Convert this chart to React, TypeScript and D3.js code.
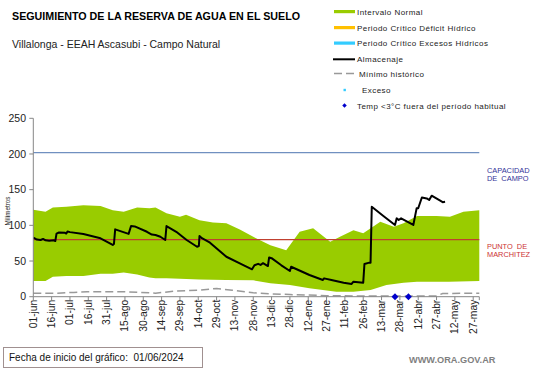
import React from "react";
import * as d3 from "d3";

const W = 541;
const H = 368;

const tickLabels = [
  "01-jun", "16-jun", "01-jul", "16-jul", "31-jul", "15-ago", "30-ago", "14-sep", "29-sep",
  "14-oct", "29-oct", "13-nov", "28-nov", "13-dic", "28-dic", "12-ene", "27-ene", "11-feb",
  "26-feb", "13-mar", "28-mar", "12-abr", "27-abr", "12-may", "27-may",
];
const yTicks = [0, 50, 100, 150, 200, 250];

// days since 01-jun-2024
const upperDays = [0, 10, 16, 27, 41, 55, 65, 74, 85, 95, 100, 109, 120, 125, 136, 147, 158, 169, 180, 194, 207, 218, 229, 243, 251, 262, 270, 284, 295, 303, 314, 330, 341, 352, 365];
const upperVals = [122, 119, 125, 126, 128, 127, 121, 119, 125, 124, 125, 117, 112, 115, 107, 104, 103, 94, 84, 72, 65, 91, 96, 77, 84, 93, 89, 105, 98, 103, 113, 113, 112, 119, 121];

const lowerDays = [0, 10, 16, 27, 41, 55, 65, 74, 85, 95, 100, 109, 120, 136, 158, 180, 194, 210, 226, 248, 262, 276, 289, 303, 314, 340, 365];
const lowerVals = [22, 22, 28, 29, 29, 32, 32, 34, 31, 27, 26, 26, 25, 24, 23.5, 23, 19, 16.5, 11.7, 7, 7, 9.4, 16.4, 19.6, 21, 21, 22];

const storageDays = [0, 3, 6, 8, 10, 13, 17, 18, 19, 21, 26, 27, 28, 30, 41, 55, 65, 66, 67, 78, 80, 83, 93, 97, 100, 104, 108, 109, 117, 125.5, 134, 135.5, 136, 138, 144.6, 158, 169, 179, 181, 184, 186, 188, 190, 192, 193, 195, 203, 210, 211, 226, 237, 238, 244, 254, 260.5, 262, 270, 271, 275, 276, 277, 286.5, 296, 297.4, 299, 301, 311, 313.7, 315, 318, 322, 324, 326, 333, 335, 337];
const storageVals = [82.7, 80, 79.5, 81, 79, 78.5, 79, 78, 88.5, 90, 89.5, 88.5, 91.5, 90.5, 87.8, 81.8, 72.5, 74, 94.4, 88, 99, 98.5, 91, 87, 86.5, 84, 79.5, 99, 91, 79.5, 70, 71, 85, 82, 75.7, 56, 46.8, 38.4, 44, 46, 44.5, 47, 45, 43, 55, 54, 44, 36, 42, 30.4, 23.4, 25.7, 23.4, 19.6, 17.8, 21, 19.6, 45.8, 47.7, 47.7, 126, 113, 100.5, 109.8, 107.5, 109.8, 100.5, 123.8, 124, 139, 137.7, 135.5, 141.5, 134.5, 132.5, 133];

const minDays = [0, 20, 33, 44, 74, 100, 117, 136, 150, 163, 180, 194, 210, 240, 270, 330, 335, 365];
const minVals = [5, 5, 6, 7, 7, 5, 8, 9, 11.5, 9, 5.5, 4, 3, 1.5, 1, 1, 4.5, 5];

const frostDays = [296, 307];
const fieldCapacity = 202;
const wiltingPoint = 80;

const legendItems = [
  { kind: "rect", color: "#99cc00", label: "Intervalo Normal" },
  { kind: "rect", color: "#ffc000", label: "Periodo Crítico Déficit Hídrico" },
  { kind: "rect", color: "#33ccff", label: "Periodo Crítico Excesos Hídricos" },
  { kind: "line", color: "#000000", label: "Almacenaje" },
  { kind: "dash", color: "#999999", label: "Mínimo histórico" },
  { kind: "dot", color: "#33ccff", label: "Exceso" },
  { kind: "diamond", color: "#0000cc", label: "Temp <3°C fuera del período habitual" },
];
const legendY = [11.5, 27.5, 43, 59.3, 73.5, 90, 105.5];

const FONT = "Arial, 'Liberation Sans', sans-serif";

export default function App() {
  const x = d3.scaleLinear().domain([0, 365]).range([33.3, 479.3]);
  const y = d3.scaleLinear().domain([0, 250]).range([296.7, 118.3]);

  const line = d3.line<[number, number]>().x((d) => x(d[0])).y((d) => y(d[1]));
  const upperPts: [number, number][] = upperDays.map((d, i) => [d, upperVals[i]]);
  const lowerPts: [number, number][] = lowerDays.map((d, i) => [d, lowerVals[i]]).reverse() as [number, number][];
  const bandPath = line([...upperPts, ...lowerPts]) + "Z";
  const storagePath = line(storageDays.map((d, i) => [d, storageVals[i]] as [number, number]));
  const minPath = line(minDays.map((d, i) => [d, minVals[i]] as [number, number]));
  const diamond = d3.symbol().type(d3.symbolSquare).size(24)();
  const diamondSmall = d3.symbol().type(d3.symbolSquare).size(10)();

  const x0 = x(0);
  const x1 = x(365);
  const yb = y(0);

  return (
    <svg width={W} height={H} style={{ position: "absolute", left: 0, top: 0, background: "#fff" }} fontFamily={FONT}>
      <rect x={0} y={0} width={W} height={H} fill="#ffffff" />
      {/* titles */}
      <text x={12} y={20} fontSize={10.7} fontWeight="bold" fill="#000">SEGUIMIENTO DE LA RESERVA DE AGUA EN EL SUELO</text>
      <text x={12} y={48} fontSize={10.5} fill="#222">Villalonga - EEAH Ascasubi - Campo Natural</text>

      {/* legend */}
      {legendItems.map((it, i) => {
        const ly = legendY[i];
        return (
          <g key={i}>
            {it.kind === "rect" && <rect x={334} y={ly - 1.5} width={21} height={3.2} fill={it.color} />}
            {it.kind === "line" && <line x1={333} x2={355} y1={ly} y2={ly} stroke="#000" strokeWidth={2} />}
            {it.kind === "dash" && <line x1={334} x2={356} y1={ly} y2={ly} stroke="#999" strokeWidth={1.5} strokeDasharray="8,4" />}
            {it.kind === "dot" && <rect x={343.5} y={ly - 1.2} width={2.4} height={2.4} fill={it.color} />}
            {it.kind === "diamond" && <path d={diamondSmall} transform={`translate(344.5,${ly})rotate(45)`} fill={it.color} />}
            <text x={it.kind === "dot" ? 362 : it.kind === "dash" ? 359 : 357} y={ly + 3} fontSize={8} letterSpacing={0.45} fill="#222">{it.label}</text>
          </g>
        );
      })}

      {/* band */}
      <path d={bandPath} fill="#99cc00" />

      {/* reference lines */}
      <line x1={x0} x2={x1} y1={y(fieldCapacity)} y2={y(fieldCapacity)} stroke="#7090c0" strokeWidth={1.2} />
      <line x1={x0} x2={x1} y1={y(wiltingPoint)} y2={y(wiltingPoint)} stroke="#c04030" strokeWidth={1.2} />

      {/* minimum historic */}
      <path d={minPath || ""} fill="none" stroke="#999" strokeWidth={1.5} strokeDasharray="8,4" />

      {/* storage */}
      <path d={storagePath || ""} fill="none" stroke="#000" strokeWidth={2} strokeLinejoin="round" />

      {/* axes */}
      <line x1={x0} x2={x0} y1={yb} y2={y(250)} stroke="#868686" strokeWidth={1} />
      <line x1={x0} x2={x1} y1={yb} y2={yb} stroke="#868686" strokeWidth={1} />
      {yTicks.map((t) => (
        <g key={t}>
          <line x1={x0 - 4} x2={x0} y1={y(t)} y2={y(t)} stroke="#868686" />
          <text x={26} y={y(t) + 3.7} fontSize={10.5} textAnchor="end" fill="#222">{t}</text>
        </g>
      ))}
      {tickLabels.map((lab, i) => {
        const tx = x(i * 15);
        return (
          <g key={lab}>
            <line x1={tx} x2={tx} y1={yb} y2={yb + 3.5} stroke="#868686" />
            <text transform={`translate(${tx + 3.5},${yb + 3})rotate(-90)`} fontSize={10.3} textAnchor="end" fill="#222">{lab}</text>
          </g>
        );
      })}
      <line x1={x1} x2={x1} y1={yb} y2={yb + 3.5} stroke="#868686" />

      {/* frost diamonds */}
      {frostDays.map((d) => (
        <path key={d} d={diamond || ""} transform={`translate(${x(d)},${yb})rotate(45)`} fill="#0000cc" />
      ))}

      <text transform="translate(10,211)rotate(-90)" fontSize={6.3} textAnchor="middle" fill="#222">Milímetros</text>

      {/* right labels */}
      <text x={487} y={172.5} fontSize={7.4} fill="#333399">CAPACIDAD</text>
      <text x={487} y={181} fontSize={7.4} fill="#333399" style={{ whiteSpace: "pre" }}>DE  CAMPO</text>
      <text x={487} y={248.5} fontSize={7.4} fill="#cc3333" style={{ whiteSpace: "pre" }}>PUNTO  DE</text>
      <text x={487} y={257} fontSize={7.4} fill="#cc3333">MARCHITEZ</text>

      {/* footer */}
      <rect x={3.5} y={347.5} width={199} height={20} fill="none" stroke="#a09090" strokeWidth={1} />
      <text x={9} y={361} fontSize={10} fill="#111" style={{ whiteSpace: "pre" }}>Fecha de inicio del gráfico:  01/06/2024</text>
      <text x={409} y={363} fontSize={9.2} fontWeight="bold" fill="#7f7f7f">WWW.ORA.GOV.AR</text>
    </svg>
  );
}
